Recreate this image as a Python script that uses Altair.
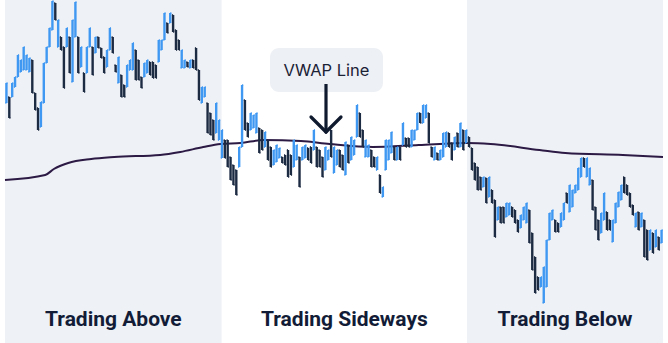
import altair as alt
import pandas as pd

# ---- price bars (high / low per period) and direction (U = up, D = down) ----
highs = [
    260, 246, 260, 266, 288, 283, 296, 288, 285, 283,
    250, 235, 241, 280, 296, 315, 342, 340, 323, 306,
    296, 315, 306, 323, 341, 306, 296, 270, 296, 315,
    296, 306, 306, 295, 286, 293, 315, 306, 278, 286,
    268, 258, 278, 283, 300, 293, 283, 266, 280, 283,
    281, 281, 278, 303, 303, 330, 320, 330, 328, 313,
    303, 293, 283, 281, 283, 283, 295, 273, 256, 256,
    240, 230, 223, 240, 223, 213, 203, 203, 186, 178,
    173, 196, 258, 243, 220, 230, 228, 230, 215, 213,
    211, 203, 196, 193, 198, 195, 186, 188, 193, 188,
    203, 198, 186, 196, 198, 195, 196, 213, 196, 193,
    186, 196, 193, 213, 196, 193, 193, 188, 201, 198,
    206, 203, 238, 230, 213, 203, 198, 193, 186, 186,
    168, 156, 203, 203, 211, 196, 196, 196, 220, 205,
    205, 213, 213, 230, 230, 238, 238, 230, 196, 196,
    190, 193, 210, 211, 210, 200, 206, 210, 220, 213,
    213, 206, 195, 180, 176, 166, 166, 165, 166, 153,
    143, 136, 136, 136, 140, 140, 136, 133, 123, 128,
    136, 140, 133, 110, 86, 66, 66, 76, 103, 130,
    133, 123, 120, 130, 140, 150, 158, 153, 158, 175,
    185, 185, 185, 175, 163, 136, 123, 130, 150, 131,
    123, 123, 140, 151, 158, 166, 158, 150, 138, 130,
    131, 130, 123, 113, 113, 110, 113, 106, 113,
]
lows = [
    240, 225, 246, 256, 266, 271, 273, 273, 271, 250,
    233, 213, 216, 240, 280, 296, 313, 323, 296, 293,
    255, 296, 270, 261, 306, 270, 276, 251, 270, 296,
    268, 290, 295, 285, 270, 276, 293, 290, 271, 260,
    246, 246, 256, 273, 273, 263, 263, 255, 266, 270,
    268, 265, 265, 281, 293, 303, 310, 320, 311, 293,
    293, 275, 275, 276, 275, 275, 273, 243, 240, 246,
    210, 208, 203, 210, 203, 185, 185, 176, 163, 158,
    148, 176, 196, 213, 206, 213, 215, 210, 190, 193,
    196, 183, 176, 178, 181, 185, 180, 178, 166, 168,
    176, 183, 156, 183, 185, 183, 180, 193, 176, 176,
    166, 173, 183, 186, 170, 178, 176, 173, 168, 180,
    183, 188, 206, 206, 196, 186, 186, 176, 176, 173,
    150, 146, 173, 183, 190, 183, 183, 183, 198, 196,
    196, 196, 203, 213, 220, 220, 225, 200, 186, 183,
    183, 183, 186, 196, 196, 183, 193, 196, 196, 193,
    200, 196, 173, 163, 153, 153, 156, 140, 146, 140,
    106, 123, 120, 120, 126, 128, 126, 120, 111, 115,
    123, 120, 100, 73, 50, 53, 56, 40, 56, 103,
    123, 111, 111, 116, 123, 140, 131, 136, 150, 153,
    166, 176, 166, 158, 133, 113, 103, 110, 123, 113,
    113, 101, 120, 136, 143, 150, 148, 136, 128, 116,
    113, 116, 86, 83, 93, 90, 96, 93, 100,
]
directions = (
    "UDUUUUUUUD" "DDUUUUUDUD" "DUDUUDUDUU" "DUDDDUUDDU" "DDUUUDDDUU"
    "DDDUUUDUDD" "DUUDUDDDUU" "DDDUUUDDDD" "DUUDDUUUDD" "UDDUUUDDDD"
    "UUDUUDDUDD" "DUUDUUDDUD" "UUUDDUUDDU" "DUUUUDUDUD" "DUUUDUUDDU"
    "DUUUDDUDUD" "UDDDDDUDUD" "DUDDUUDDDU" "UUDDDDUUUU" "UDDUUDUUUU"
    "UDUUDDDUUD" "DUUUUDDDDU" "DUDDUDUDU"
)

# ---- VWAP line (period index, value) ----
vwap_period = [0, 14, 17, 22, 30, 38, 54, 61, 69, 75, 82, 90, 103, 113, 128, 144, 161, 169, 186, 195, 215, 229]
vwap_value = [163, 168, 174, 180, 184, 186, 188, 191, 196, 199, 200, 203, 202, 199, 196, 198, 200, 199, 193, 190, 188, 186]

# ---- regimes ----
regime_labels = ["Trading Above", "Trading Sideways", "Trading Below"]
regime_start = [0, 75.4, 160.8]
regime_end = [75.4, 160.8, 229]
regime_shaded = [True, False, True]

n = min(len(highs), len(lows), len(directions))
W, H = 668, 343

rows = []
for i in range(n):
    up = directions[i] == "U"
    rows.append({
        "t": i + 0.5,
        "tl": i + 0.1,
        "tr": i + 0.9,
        "high": highs[i],
        "low": lows[i],
        "open": lows[i] if up else highs[i],
        "close": highs[i] if up else lows[i],
        "dir": "Up" if up else "Down",
    })
bars = pd.DataFrame(rows)
vwap = pd.DataFrame({"t": vwap_period, "v": vwap_value})
regimes = pd.DataFrame({
    "label": regime_labels,
    "start": regime_start,
    "end": regime_end,
    "mid": [(a + b) / 2 for a, b in zip(regime_start, regime_end)],
    "shaded": regime_shaded,
})

xs = alt.Scale(domain=[0, n], nice=False, zero=False)
ys = alt.Scale(domain=[0, H], nice=False, zero=False)
cs = alt.Scale(domain=["Up", "Down"], range=["#3f98f2", "#1c2a42"])

bands = alt.Chart(regimes).transform_filter("datum.shaded").mark_rect(color="#eef1f6").encode(
    x=alt.X("start:Q", scale=xs, axis=None),
    x2="end:Q",
)

line = alt.Chart(vwap).mark_line(color="#2c1a45", strokeWidth=2, interpolate="monotone").encode(
    x=alt.X("t:Q", scale=xs, axis=None),
    y=alt.Y("v:Q", scale=ys, axis=None),
)

base = alt.Chart(bars)
candles = base.mark_bar(size=2.4).encode(
    x=alt.X("t:Q", scale=xs, axis=None),
    y=alt.Y("low:Q", scale=ys, axis=None),
    y2="high:Q",
    color=alt.Color("dir:N", scale=cs, legend=None),
)
open_tick = base.mark_rule(strokeWidth=1.6).encode(
    x=alt.X("tl:Q", scale=xs, axis=None),
    x2="t:Q",
    y=alt.Y("open:Q", scale=ys, axis=None),
    color=alt.Color("dir:N", scale=cs, legend=None),
)
close_tick = base.mark_rule(strokeWidth=1.6).encode(
    x=alt.X("t:Q", scale=xs, axis=None),
    x2="tr:Q",
    y=alt.Y("close:Q", scale=ys, axis=None),
    color=alt.Color("dir:N", scale=cs, legend=None),
)

labels = alt.Chart(regimes).mark_text(
    font="Roboto", fontSize=21, fontWeight="bold", color="#121c36", baseline="middle"
).encode(
    x=alt.X("mid:Q", scale=xs, axis=None),
    y=alt.value(320),
    text="label:N",
)

note = pd.DataFrame({"text": ["VWAP Line"]})
box = alt.Chart(note).mark_rect(color="#edf0f4", cornerRadius=9).encode(
    x=alt.value(270), x2=alt.value(383), y=alt.value(48), y2=alt.value(92)
)
box_text = alt.Chart(note).mark_text(font="Inter", fontSize=16.5, color="#1b2236", baseline="middle").encode(
    x=alt.value(326.5), y=alt.value(70.5), text="text:N"
)
shaft = alt.Chart(note).mark_rule(color="#101a2e", strokeWidth=3.2).encode(
    x=alt.value(326), x2=alt.value(326), y=alt.value(84), y2=alt.value(131)
)
head_l = alt.Chart(note).mark_rule(color="#101a2e", strokeWidth=3.2, strokeCap="round").encode(
    x=alt.value(311), y=alt.value(117), x2=alt.value(326), y2=alt.value(132)
)
head_r = alt.Chart(note).mark_rule(color="#101a2e", strokeWidth=3.2, strokeCap="round").encode(
    x=alt.value(341), y=alt.value(117), x2=alt.value(326), y2=alt.value(132)
)

chart = alt.layer(
    bands, line, candles, open_tick, close_tick, labels, box, box_text, shaft, head_l, head_r
).properties(
    width=W, height=H, padding=0, autosize=alt.AutoSizeParams(type="none"), background="white"
).configure_view(stroke=None)

chart.save("out.html", embed_options={"renderer": "svg", "actions": False})
